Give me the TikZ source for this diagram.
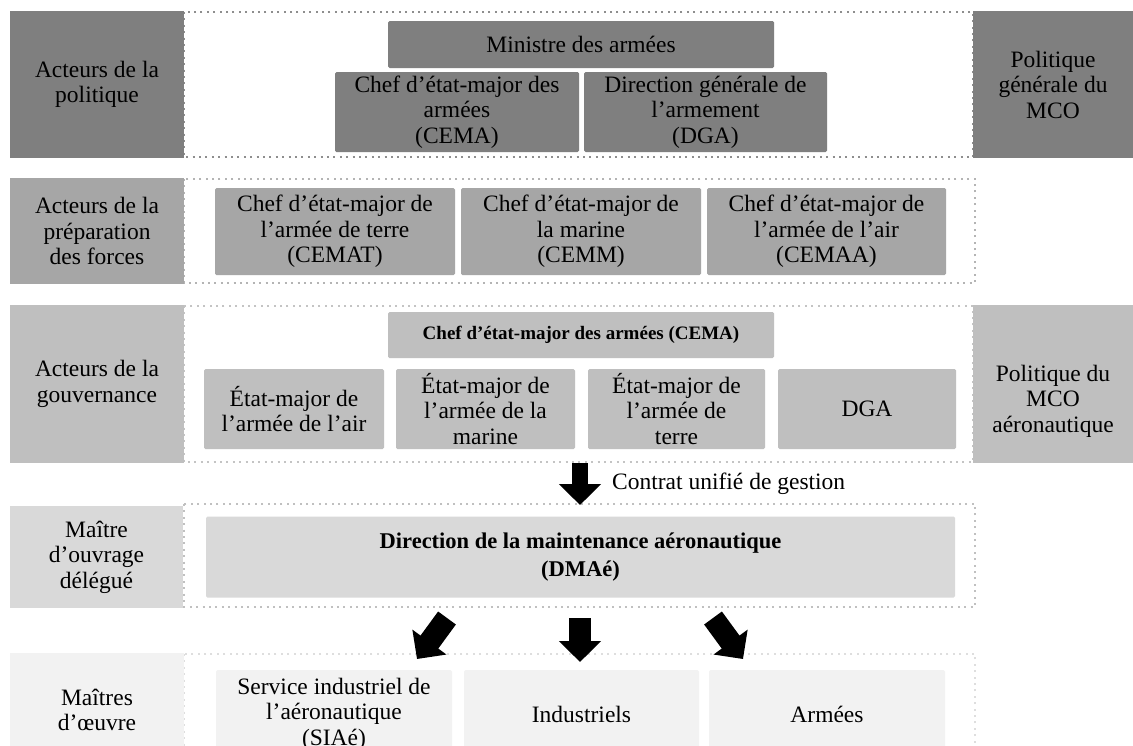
\documentclass[tikz,border=0pt]{standalone}
\usepackage{fontspec}
\setmainfont{Liberation Serif}
\usetikzlibrary{arrows.meta}
\definecolor{gA}{HTML}{7F7F7F}
\definecolor{gB}{HTML}{A6A6A6}
\definecolor{gC}{HTML}{BFBFBF}
\definecolor{gD}{HTML}{D9D9D9}
\definecolor{gE}{HTML}{F2F2F2}
\definecolor{dA}{HTML}{8E8E8E}
\definecolor{dB}{HTML}{B4B4B4}
\definecolor{dC}{HTML}{C4C4C4}
\definecolor{dD}{HTML}{C0C0C0}
\definecolor{dE}{HTML}{DEDEDE}
\newcommand\mainsize{\fontsize{23.5}{25.5}\selectfont}
\tikzset{
  rowframe/.style={line width=2pt, dash pattern=on 2pt off 4.4pt},
  labbox/.style={inner sep=0pt, align=center, font=\mainsize},
  ibox/.style={rounded corners=1.5pt, inner sep=0pt, align=center, font=\mainsize},
  txt/.style={inner sep=0pt, align=center, font=\mainsize},
  barrow/.style={line width=#1, draw=black, line cap=butt, -{Triangle[length=21pt,width=41pt]}},
}
\begin{document}
\begin{tikzpicture}[x=1pt,y=-1pt]
\useasboundingbox (0,0) rectangle (1133,745);
\clip (0,0) rectangle (1133,745);
\fill[white] (0,0) rectangle (1133,745);
% dotted frames
\draw[rowframe, draw=dA] (184,12) rectangle (973,157);
\draw[rowframe, draw=dB] (184,179) rectangle (975,283);
\draw[rowframe, draw=dC] (184,306) rectangle (973,462);
\draw[rowframe, draw=dD] (184,504) rectangle (975,607);
\draw[rowframe, draw=dE] (184,654) rectangle (975,770);
% row labels
\node[labbox, fill=gA, minimum width=174pt, minimum height=147pt] (lab1) at (97,84.5) {Acteurs de la\\politique};
\node[labbox, fill=gA, minimum width=160pt, minimum height=147pt] (rlab1) at (1053,84.5) {Politique\\générale du\\MCO};
\node[labbox, fill=gB, minimum width=174pt, minimum height=106pt] (lab2) at (97,231) {Acteurs de la\\préparation\\des forces};
\node[labbox, fill=gC, minimum width=174pt, minimum height=158pt] (lab3) at (97,384) {Acteurs de la\\gouvernance};
\node[labbox, fill=gC, minimum width=160pt, minimum height=158pt] (rlab3) at (1053,384) {};
\node[txt] (rlab3t) at (1053,401) {Politique du\\MCO\\aéronautique};
\node[labbox, fill=gD, minimum width=173pt, minimum height=102pt] (lab4) at (96.5,557) {Maître\\d’ouvrage\\délégué};
\node[labbox, fill=gE, minimum width=174pt, minimum height=117pt] (lab5) at (97,711.5) {};
\node[txt] (lab5t) at (97,710) {Maîtres\\d’œuvre};
% row 1
\node[ibox, fill=gA, minimum width=386pt, minimum height=47pt] (ministre) at (581,44.5) {Ministre des armées};
\node[ibox, fill=gA, minimum width=244pt, minimum height=80pt] (cemaA) at (457,112) {Chef d’état-major des\\armées\\(CEMA)};
\node[ibox, fill=gA, minimum width=243pt, minimum height=80pt] (dgaA) at (705.5,112) {Direction générale de\\l’armement\\(DGA)};
% row 2
\node[ibox, fill=gB, minimum width=240pt, minimum height=87pt] (cemat) at (335,231.5) {Chef d’état-major de\\l’armée de terre\\(CEMAT)};
\node[ibox, fill=gB, minimum width=240pt, minimum height=87pt] (cemm) at (581,231.5) {Chef d’état-major de\\la marine\\(CEMM)};
\node[ibox, fill=gB, minimum width=239pt, minimum height=87pt] (cemaa) at (826.5,231.5) {Chef d’état-major de\\l’armée de l’air\\(CEMAA)};
% row 3
\node[ibox, fill=gC, minimum width=386pt, minimum height=46pt, font=\fontsize{19}{21}\selectfont\bfseries] (cemaB) at (581,335) {Chef d’état-major des armées (CEMA)};
\node[ibox, fill=gC, minimum width=180pt, minimum height=80pt] (emair) at (294,409) {État-major de\\l’armée de l’air};
\node[ibox, fill=gC, minimum width=179pt, minimum height=80pt] (emmar) at (485.5,409) {État-major de\\l’armée de la\\marine};
\node[ibox, fill=gC, minimum width=177pt, minimum height=80pt] (emter) at (676.5,409) {État-major de\\l’armée de\\terre};
\node[ibox, fill=gC, minimum width=178pt, minimum height=80pt] (dgaB) at (867,409) {DGA};
% row 4
\node[ibox, fill=gD, minimum width=749pt, minimum height=81pt, font=\fontsize{22.5}{28}\selectfont\bfseries] (dmae) at (580.5,557) {Direction de la maintenance aéronautique\\(DMAé)};
% row 5
\node[ibox, fill=gE, minimum width=236pt, minimum height=88pt] (siae) at (334,714) {Service industriel de\\l’aéronautique\\(SIAé)};
\node[ibox, fill=gE, minimum width=235pt, minimum height=88pt] (indus) at (581.5,714) {Industriels};
\node[ibox, fill=gE, minimum width=236pt, minimum height=88pt] (armees) at (827,714) {Armées};
% arrows
\coordinate (c1s) at (580,463);
\coordinate (c1e) at (580,505);
\draw[barrow=16pt] (c1s) -- (c1e);
\node[txt, anchor=west] (contrat) at (612,484) {Contrat unifié de gestion};
\coordinate (aLs) at (447,618);
\coordinate (aLe) at (417,659);
\coordinate (aMs) at (580,618);
\coordinate (aMe) at (580,662);
\coordinate (aRs) at (713,618);
\coordinate (aRe) at (743,659);
\draw[barrow=22pt] (aLs) -- (aLe);
\draw[barrow=22pt] (aMs) -- (aMe);
\draw[barrow=22pt] (aRs) -- (aRe);
\end{tikzpicture}
\end{document}
